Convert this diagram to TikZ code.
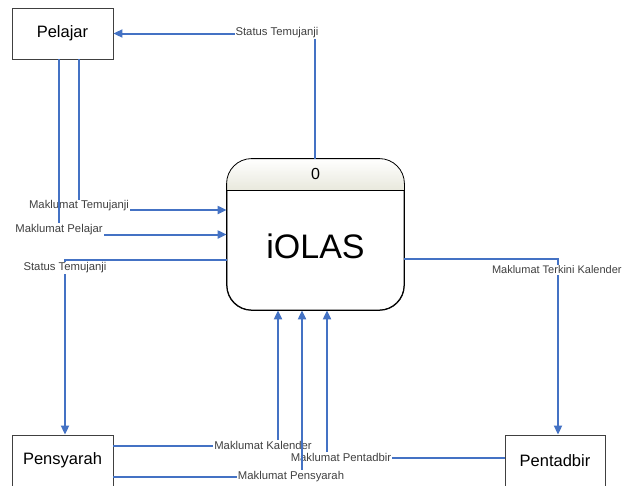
\documentclass[tikz,border=0pt]{standalone}
\usepackage{fontspec}
\setmainfont{Liberation Sans}
\usetikzlibrary{arrows.meta,calc}
\definecolor{flowblue}{RGB}{68,114,196}
\definecolor{lblgray}{RGB}{64,64,64}
\definecolor{hdr}{RGB}{232,232,220}
\begin{document}
\begin{tikzpicture}[x=1pt,y=-1pt,
 entity/.style={draw=black!75,line width=0.9pt,minimum width=101pt,minimum height=51pt,inner sep=0pt,font=\fontsize{16.5}{18}\selectfont},
 procbox/.style={draw=black,line width=0.8pt,rounded corners=25pt,minimum width=177pt,minimum height=151pt,inner sep=0pt},
 flow/.style={draw=flowblue,line width=2pt,-{Triangle[length=9pt,width=8pt]}},
 revflow/.style={draw=flowblue,line width=2pt,{Triangle[length=9pt,width=8pt]}-},
 lbl/.style={fill=white,text=lblgray,inner sep=1pt,font=\fontsize{11.3}{12}\selectfont}]
\clip (0,0) rectangle (623,485);
\fill[white] (0,0) rectangle (623,485);
\node[entity] (pel) at (62.5,33.5) {Pelajar};
\node[entity] (pen) at (62.5,460.5) {Pensyarah};
\node[entity,minimum width=100pt] (pent) at (555,460.5) {Pentadbir};
\node[procbox] (p) at (315.5,234.5) {};
\begin{scope}
\clip[rounded corners=25pt] (p.north west) rectangle (p.south east);
\shade[top color=white,bottom color=hdr] (p.north west) rectangle ($(p.north east)+(0,32)$);
\end{scope}
\draw[line width=0.8pt,rounded corners=25pt] (p.north west) rectangle (p.south east);
\draw[line width=0.8pt] ($(p.north west)+(0,32)$) -- ($(p.north east)+(0,32)$);
\node[font=\fontsize{16}{18}\selectfont] (zero) at (315.5,174) {0};
\node[font=\fontsize{34}{40}\selectfont] (name) at (315.5,246) {iOLAS};
\draw[revflow] (pel.east) -| ([xshift=-0.5pt]p.north) node[lbl] at (277,33) {Status Temujanji};
\draw[revflow] ([yshift=24.5pt]p.west) -| ([xshift=67.5pt]pel.south west) node[lbl] at (79,206) {Maklumat Temujanji};
\draw[revflow] (p.west) -| ([xshift=47.5pt]pel.south west) node[lbl] at (59,229.5) {Maklumat Pelajar};
\draw[flow] ([yshift=-25.5pt]p.west) -| ([xshift=2.5pt]pen.north) node[lbl] at (65,268) {Status Temujanji};
\draw[flow] ([yshift=-24.5pt]p.east) -| ([xshift=3pt]pent.north) node[lbl,anchor=west,font=\fontsize{11}{12}\selectfont] at (490,270) {Maklumat Terkini Kalender};
\draw[flow] ([yshift=14.5pt]pen.east) -| ([xshift=-37.5pt]p.south) node[lbl] at (263,445) {Maklumat Kalender};
\draw[flow] ([yshift=2.5pt]pent.west) -| ([xshift=11.5pt]p.south) node[lbl] at (341,457) {Maklumat Pentadbir};
\draw[flow] ([yshift=-16.5pt]pen.east) -| ([xshift=-13.5pt]p.south) node[lbl] at (291,476.5) {Maklumat Pensyarah};
\end{tikzpicture}
\end{document}
